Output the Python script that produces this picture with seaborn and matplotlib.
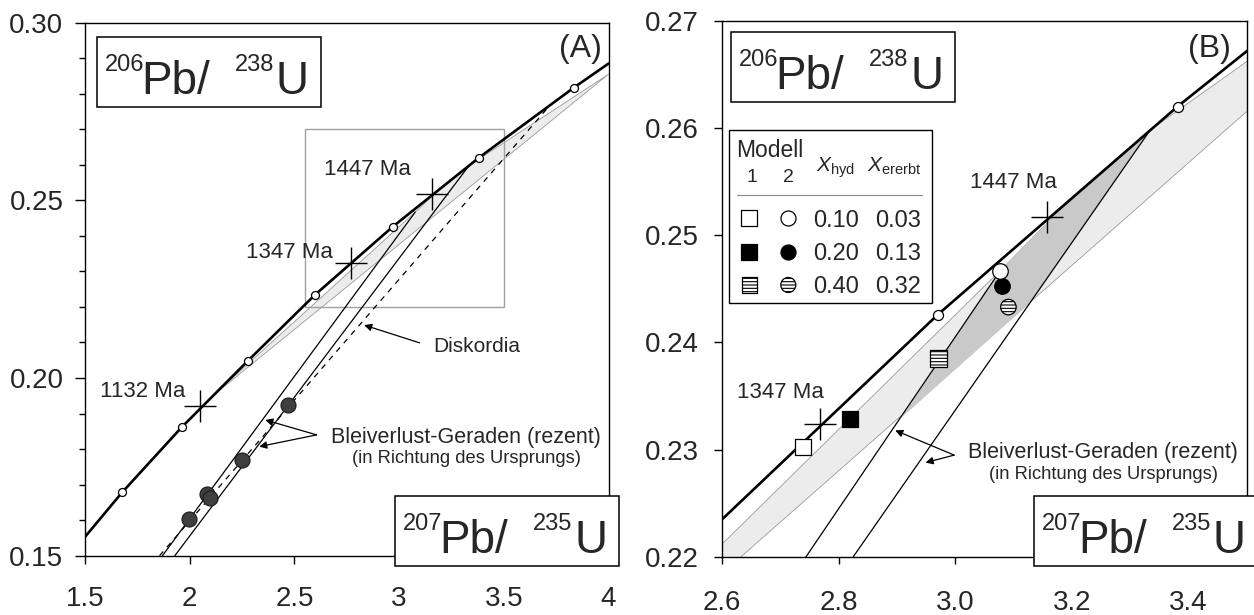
import numpy as np
import pandas as pd
import seaborn as sns
import matplotlib.pyplot as plt
from matplotlib.patches import Rectangle
from matplotlib.ticker import MultipleLocator

sns.set_style('ticks')
plt.rcParams['font.family'] = ['Liberation Sans', 'DejaVu Sans']
plt.rcParams['mathtext.fontset'] = 'custom'
plt.rcParams['mathtext.rm'] = 'Liberation Sans'
plt.rcParams['mathtext.it'] = 'Liberation Sans:italic'
plt.rcParams['hatch.linewidth'] = 0.8

# concordia (panel edges + 100 Ma steps)
conc_x = [1.50, 1.677, 1.961, 2.277, 2.598, 2.970, 3.381, 3.834, 4.00]
conc_y = [0.1553, 0.1678, 0.1861, 0.2048, 0.2234, 0.2426, 0.2620, 0.2817, 0.2885]
age_x = [1.677, 1.961, 2.277, 2.598, 2.970, 3.381, 3.834]
age_y = [0.1678, 0.1861, 0.2048, 0.2234, 0.2426, 0.2620, 0.2817]

cross_x = [2.049, 2.768, 3.158]
cross_y = [0.1920, 0.2324, 0.2517]
cross_lbl = ['1132 Ma', '1347 Ma', '1447 Ma']

# measured zircons (panel A)
pts_x = [1.997, 2.081, 2.097, 2.251, 2.471]
pts_y = [0.1602, 0.1673, 0.1661, 0.1769, 0.1923]

# lead-loss lines and discordia
blei1_x = [1.870, 3.077]
blei1_y = [0.150, 0.2467]
blei2_x = [1.929, 3.334]
blei2_y = [0.150, 0.2598]
disk_x = [1.856, 3.718]
disk_y = [0.150, 0.2766]

# shaded fields
band_x = [2.11, 3.077, 3.20, 3.334, 4.00]
band_y = [0.1950, 0.2467, 0.2535, 0.2598, 0.2855]
dark_x = [2.908, 3.128, 3.334, 3.20, 3.077]
dark_y = [0.2330, 0.2437, 0.2598, 0.2535, 0.2467]
zoom_box = [2.55, 0.22, 3.50, 0.27]

# model results (panel B)
mod1_x = [2.739, 2.820, 2.971]
mod1_y = [0.2303, 0.2329, 0.2385]
mod2_x = [3.077, 3.080, 3.091]
mod2_y = [0.2467, 0.2453, 0.2433]
x_hyd = ['0.10', '0.20', '0.40']
x_ererbt = ['0.03', '0.13', '0.32']

fig = plt.figure(figsize=(12.54, 6.15), dpi=100)
axA = fig.add_axes([85 / 1254, 59.3 / 615, 523.5 / 1254, 533 / 615])
axB = fig.add_axes([722 / 1254, 58 / 615, 525 / 1254, 536.3 / 615])

LIGHT, DARK, GREY = '#ececec', '#c9c9c9', '#9a9a9a'


def common(ax, circ_s, bx):
    ax.fill(band_x, band_y, facecolor=LIGHT, edgecolor=GREY, lw=0.6, zorder=1)
    for lx, ly in [(blei1_x, blei1_y), (blei2_x, blei2_y)]:
        sns.lineplot(x=lx, y=ly, sort=False, estimator=None, color='k', lw=0.9, ax=ax, zorder=3)
    sns.lineplot(x=conc_x, y=conc_y, sort=False, estimator=None, color='k', lw=1.9, ax=ax, zorder=4)
    ax_x = [x for x in age_x if bx[0] + 0.02 < x < bx[1]]
    ax_y = [y for x, y in zip(age_x, age_y) if bx[0] + 0.02 < x < bx[1]]
    sns.scatterplot(x=ax_x, y=ax_y, marker='o', s=circ_s, color='white', edgecolor='k',
                    linewidth=0.9, ax=ax, zorder=5)
    sns.scatterplot(x=cross_x, y=cross_y, marker='+', s=529, color='k', linewidth=1.0, ax=ax, zorder=6)
    for s in ax.spines.values():
        s.set_color('k')
        s.set_linewidth(1.0)
    ax.set_xlabel('')
    ax.set_ylabel('')


def iso_box(ax, x0, y0, sup1, main1, sup2, main2):
    w = 224 / ax.bbox.width
    h = 70 / ax.bbox.height
    ax.add_patch(Rectangle((x0, y0), w, h, transform=ax.transAxes, fc='white', ec='k',
                           lw=1.1, clip_on=False, zorder=20))
    for dx, dy, s, size in [(8, 36, sup1, 17), (44, 13, main1, 33),
                            (138, 36, sup2, 17), (179, 13, main2, 33)]:
        ax.annotate(s, xy=(x0, y0), xycoords='axes fraction', xytext=(dx, dy),
                    textcoords='offset pixels', ha='left', va='baseline',
                    fontsize=size, zorder=21)


def arrow(ax, tail, head):
    ax.annotate('', xy=head, xytext=tail,
                arrowprops=dict(arrowstyle='-|>', color='k', lw=0.9, mutation_scale=11,
                                shrinkA=0, shrinkB=0), zorder=7)


# ---------------- panel A ----------------
common(axA, 33, (1.5, 4.0))
axA.add_patch(Rectangle((zoom_box[0], zoom_box[1]), zoom_box[2] - zoom_box[0],
                        zoom_box[3] - zoom_box[1], fill=False, ec='#a0a0a0', lw=1.0, zorder=2))
sns.lineplot(x=disk_x, y=disk_y, sort=False, estimator=None, color='k', lw=0.9,
             linestyle=(0, (4.5, 4.5)), ax=axA, zorder=3)
sns.scatterplot(x=pts_x, y=pts_y, marker='o', s=117, color='#3f3f3f', edgecolor='#1a1a1a',
                linewidth=0.8, ax=axA, zorder=5)

for (tx, ty), lbl in zip([(1.775, 0.1947), (2.475, 0.2337), (2.849, 0.2571)], cross_lbl):
    axA.text(tx, ty, lbl, ha='center', va='baseline', fontsize=16)
axA.text(3.864, 0.2904, '(A)', ha='center', va='baseline', fontsize=23)
axA.text(3.372, 0.2072, 'Diskordia', ha='center', va='baseline', fontsize=15)
arrow(axA, (3.098, 0.2099), (2.833, 0.2149))
axA.text(3.32, 0.1816, 'Bleiverlust-Geraden (rezent)', ha='center', va='baseline', fontsize=15.5)
axA.text(3.32, 0.1760, '(in Richtung des Ursprungs)', ha='center', va='baseline', fontsize=13.2)
arrow(axA, (2.606, 0.1840), (2.361, 0.1882))
arrow(axA, (2.606, 0.1840), (2.332, 0.1807))

axA.set_xlim(1.5, 4.0)
axA.set_ylim(0.15, 0.30)
axA.set_xticks([1.5, 2, 2.5, 3, 3.5, 4])
axA.set_xticklabels(['1.5', '2', '2.5', '3', '3.5', '4'])
axA.set_yticks([0.15, 0.20, 0.25, 0.30])
axA.set_yticklabels(['0.15', '0.20', '0.25', '0.30'])
axA.yaxis.set_minor_locator(MultipleLocator(0.01))
axA.tick_params(which='both', direction='out', color='k', width=1.0, labelsize=20)
axA.tick_params(axis='x', which='major', length=5.5, pad=16)
axA.tick_params(axis='y', which='major', length=7, pad=8.5)
axA.tick_params(axis='y', which='minor', length=4.3)
iso_box(axA, 0.0229, 0.8424, '206', 'Pb/', '238', 'U')
iso_box(axA, 0.5922, -0.0193, '207', 'Pb/', '235', 'U')

# ---------------- panel B ----------------
axB.fill(dark_x, dark_y, facecolor=DARK, edgecolor='none', zorder=1.5)
common(axB, 52, (2.6, 3.5))
sns.scatterplot(x=mod1_x[:1], y=mod1_y[:1], marker='s', s=144, color='white', edgecolor='k', linewidth=0.9, ax=axB, zorder=8)
sns.scatterplot(x=mod1_x[1:2], y=mod1_y[1:2], marker='s', s=144, color='black', edgecolor='k', linewidth=0.9, ax=axB, zorder=8)
sns.scatterplot(x=mod1_x[2:], y=mod1_y[2:], marker='s', s=144, color='white', edgecolor='k', linewidth=0.9, hatch='-----', ax=axB, zorder=8)
sns.scatterplot(x=mod2_x[1:2], y=mod2_y[1:2], marker='o', s=125, color='black', edgecolor='k', linewidth=0.9, ax=axB, zorder=8)
sns.scatterplot(x=mod2_x[:1], y=mod2_y[:1], marker='o', s=125, color='white', edgecolor='k', linewidth=0.9, ax=axB, zorder=9)
sns.scatterplot(x=mod2_x[2:], y=mod2_y[2:], marker='o', s=125, color='white', edgecolor='k', linewidth=0.9, hatch='-----', ax=axB, zorder=8)

axB.text(2.6995, 0.2348, cross_lbl[1], ha='center', va='baseline', fontsize=16)
axB.text(3.0997, 0.2544, cross_lbl[2], ha='center', va='baseline', fontsize=16)
axB.text(3.435, 0.2666, '(B)', ha='center', va='baseline', fontsize=23)
axB.text(3.253, 0.2292, 'Bleiverlust-Geraden (rezent)', ha='center', va='baseline', fontsize=15.5)
axB.text(3.2546, 0.2273, '(in Richtung des Ursprungs)', ha='center', va='baseline', fontsize=13.2)
arrow(axB, (2.998, 0.2295), (2.897, 0.2318))
arrow(axB, (2.998, 0.2295), (2.949, 0.2288))

axB.set_xlim(2.6, 3.5)
axB.set_ylim(0.22, 0.27)
axB.set_xticks([2.6, 2.8, 3.0, 3.2, 3.4])
axB.set_xticklabels(['2.6', '2.8', '3.0', '3.2', '3.4'])
axB.set_yticks([0.22, 0.23, 0.24, 0.25, 0.26, 0.27])
axB.set_yticklabels(['0.22', '0.23', '0.24', '0.25', '0.26', '0.27'])
axB.tick_params(direction='out', color='k', width=1.0, labelsize=20)
axB.tick_params(axis='x', length=5, pad=18.5)
axB.tick_params(axis='y', length=5.5, pad=11)
iso_box(axB, 0.0177, 0.849, '206', 'Pb/', '238', 'U')
iso_box(axB, 0.594, -0.0168, '207', 'Pb/', '235', 'U')

# legend table
T = axB.transAxes
axB.add_patch(Rectangle((0.0139, 0.473), 0.3855, 0.323, transform=T, fc='white', ec='k',
                        lw=1.0, clip_on=False, zorder=20))
axB.text(0.0914, 0.7453, 'Modell', transform=T, ha='center', va='baseline', fontsize=16.5, zorder=21)
axB.text(0.0566, 0.6998, '1', transform=T, ha='center', va='baseline', fontsize=14, zorder=21)
axB.text(0.1263, 0.6998, '2', transform=T, ha='center', va='baseline', fontsize=14, zorder=21)
axB.text(0.2158, 0.719, r'$X_{\mathrm{hyd}}$', transform=T, ha='center', va='baseline', fontsize=15, zorder=21)
axB.text(0.329, 0.719, r'$X_{\mathrm{ererbt}}$', transform=T, ha='center', va='baseline', fontsize=15, zorder=21)
axB.plot([0.0286, 0.3802], [0.675, 0.675], transform=T, color='#888888', lw=0.8, zorder=21)
rows_y = [0.6316, 0.5694, 0.5072]
base_y = [0.6159, 0.5538, 0.4917]
styles = [dict(fc='white'), dict(fc='black'), dict(fc='white', hatch='-----')]
for ry, by, st, xh, xe in zip(rows_y, base_y, styles, x_hyd, x_ererbt):
    axB.scatter([0.052], [ry], marker='s', s=125, ec='k', lw=0.9, transform=T, zorder=22, clip_on=False, **st)
    axB.scatter([0.1263], [ry], marker='o', s=117, ec='k', lw=0.9, transform=T, zorder=22, clip_on=False, **st)
    axB.text(0.2171, by, xh, transform=T, ha='center', va='baseline', fontsize=17, zorder=21)
    axB.text(0.3352, by, xe, transform=T, ha='center', va='baseline', fontsize=17, zorder=21)

fig.savefig('out.png', dpi=100)
